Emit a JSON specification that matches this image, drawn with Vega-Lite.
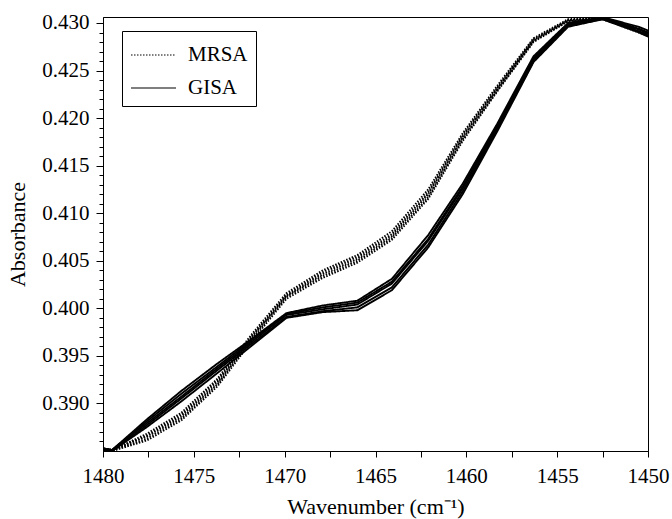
{
  "$schema": "https://vega.github.io/schema/vega-lite/v6.json",
  "autosize": {"type": "none"},
  "width": 545,
  "height": 434,
  "padding": {"left": 103, "top": 17, "right": 24, "bottom": 68},
  "background": "white",
  "config": {
    "view": {"stroke": "black", "strokeWidth": 1},
    "font": "Liberation Serif",
    "text": {"font": "Liberation Serif"},
    "axis": {"domainColor": "black", "tickColor": "black", "labelColor": "black", "titleColor": "black", "labelFont": "Liberation Serif", "titleFont": "Liberation Serif", "labelFontSize": 21, "titleFontSize": 22, "titleFontWeight": "normal", "grid": false, "domainWidth": 1, "tickWidth": 1},
    "legend": {"labelFont": "Liberation Serif"}
  },
  "datasets": {
    "spectra": [
      {"rep":"G1","strain":"GISA","wn":1481.4,"abs":0.3857},{"rep":"G1","strain":"GISA","wn":1479.5,"abs":0.3851},{"rep":"G1","strain":"GISA","wn":1477.6,"abs":0.3883},{"rep":"G1","strain":"GISA","wn":1475.7,"abs":0.3913},{"rep":"G1","strain":"GISA","wn":1473.7,"abs":0.3942},{"rep":"G1","strain":"GISA","wn":1471.8,"abs":0.3968},{"rep":"G1","strain":"GISA","wn":1469.9,"abs":0.3995},{"rep":"G1","strain":"GISA","wn":1467.9,"abs":0.4003},{"rep":"G1","strain":"GISA","wn":1466.0,"abs":0.4008},{"rep":"G1","strain":"GISA","wn":1464.1,"abs":0.4031},{"rep":"G1","strain":"GISA","wn":1462.1,"abs":0.4077},{"rep":"G1","strain":"GISA","wn":1460.2,"abs":0.4131},{"rep":"G1","strain":"GISA","wn":1458.3,"abs":0.4194},{"rep":"G1","strain":"GISA","wn":1456.3,"abs":0.4265},{"rep":"G1","strain":"GISA","wn":1454.4,"abs":0.4300},{"rep":"G1","strain":"GISA","wn":1452.5,"abs":0.4306},{"rep":"G1","strain":"GISA","wn":1450.5,"abs":0.4296},{"rep":"G1","strain":"GISA","wn":1448.6,"abs":0.4281},
      {"rep":"G2","strain":"GISA","wn":1481.4,"abs":0.3857},{"rep":"G2","strain":"GISA","wn":1479.5,"abs":0.3851},{"rep":"G2","strain":"GISA","wn":1477.6,"abs":0.3881},{"rep":"G2","strain":"GISA","wn":1475.7,"abs":0.3910},{"rep":"G2","strain":"GISA","wn":1473.7,"abs":0.3939},{"rep":"G2","strain":"GISA","wn":1471.8,"abs":0.3967},{"rep":"G2","strain":"GISA","wn":1469.9,"abs":0.3994},{"rep":"G2","strain":"GISA","wn":1467.9,"abs":0.4001},{"rep":"G2","strain":"GISA","wn":1466.0,"abs":0.4006},{"rep":"G2","strain":"GISA","wn":1464.1,"abs":0.4028},{"rep":"G2","strain":"GISA","wn":1462.1,"abs":0.4073},{"rep":"G2","strain":"GISA","wn":1460.2,"abs":0.4128},{"rep":"G2","strain":"GISA","wn":1458.3,"abs":0.4192},{"rep":"G2","strain":"GISA","wn":1456.3,"abs":0.4263},{"rep":"G2","strain":"GISA","wn":1454.4,"abs":0.4299},{"rep":"G2","strain":"GISA","wn":1452.5,"abs":0.4305},{"rep":"G2","strain":"GISA","wn":1450.5,"abs":0.4294},{"rep":"G2","strain":"GISA","wn":1448.6,"abs":0.4279},
      {"rep":"G3","strain":"GISA","wn":1481.4,"abs":0.3856},{"rep":"G3","strain":"GISA","wn":1479.5,"abs":0.3851},{"rep":"G3","strain":"GISA","wn":1477.6,"abs":0.3879},{"rep":"G3","strain":"GISA","wn":1475.7,"abs":0.3907},{"rep":"G3","strain":"GISA","wn":1473.7,"abs":0.3937},{"rep":"G3","strain":"GISA","wn":1471.8,"abs":0.3965},{"rep":"G3","strain":"GISA","wn":1469.9,"abs":0.3993},{"rep":"G3","strain":"GISA","wn":1467.9,"abs":0.3999},{"rep":"G3","strain":"GISA","wn":1466.0,"abs":0.4004},{"rep":"G3","strain":"GISA","wn":1464.1,"abs":0.4026},{"rep":"G3","strain":"GISA","wn":1462.1,"abs":0.4071},{"rep":"G3","strain":"GISA","wn":1460.2,"abs":0.4126},{"rep":"G3","strain":"GISA","wn":1458.3,"abs":0.4190},{"rep":"G3","strain":"GISA","wn":1456.3,"abs":0.4262},{"rep":"G3","strain":"GISA","wn":1454.4,"abs":0.4298},{"rep":"G3","strain":"GISA","wn":1452.5,"abs":0.4305},{"rep":"G3","strain":"GISA","wn":1450.5,"abs":0.4293},{"rep":"G3","strain":"GISA","wn":1448.6,"abs":0.4278},
      {"rep":"G4","strain":"GISA","wn":1481.4,"abs":0.3856},{"rep":"G4","strain":"GISA","wn":1479.5,"abs":0.3850},{"rep":"G4","strain":"GISA","wn":1477.6,"abs":0.3877},{"rep":"G4","strain":"GISA","wn":1475.7,"abs":0.3905},{"rep":"G4","strain":"GISA","wn":1473.7,"abs":0.3935},{"rep":"G4","strain":"GISA","wn":1471.8,"abs":0.3963},{"rep":"G4","strain":"GISA","wn":1469.9,"abs":0.3991},{"rep":"G4","strain":"GISA","wn":1467.9,"abs":0.3997},{"rep":"G4","strain":"GISA","wn":1466.0,"abs":0.4001},{"rep":"G4","strain":"GISA","wn":1464.1,"abs":0.4022},{"rep":"G4","strain":"GISA","wn":1462.1,"abs":0.4067},{"rep":"G4","strain":"GISA","wn":1460.2,"abs":0.4123},{"rep":"G4","strain":"GISA","wn":1458.3,"abs":0.4188},{"rep":"G4","strain":"GISA","wn":1456.3,"abs":0.4260},{"rep":"G4","strain":"GISA","wn":1454.4,"abs":0.4297},{"rep":"G4","strain":"GISA","wn":1452.5,"abs":0.4304},{"rep":"G4","strain":"GISA","wn":1450.5,"abs":0.4291},{"rep":"G4","strain":"GISA","wn":1448.6,"abs":0.4276},
      {"rep":"G5","strain":"GISA","wn":1481.4,"abs":0.3855},{"rep":"G5","strain":"GISA","wn":1479.5,"abs":0.3850},{"rep":"G5","strain":"GISA","wn":1477.6,"abs":0.3875},{"rep":"G5","strain":"GISA","wn":1475.7,"abs":0.3902},{"rep":"G5","strain":"GISA","wn":1473.7,"abs":0.3932},{"rep":"G5","strain":"GISA","wn":1471.8,"abs":0.3961},{"rep":"G5","strain":"GISA","wn":1469.9,"abs":0.3990},{"rep":"G5","strain":"GISA","wn":1467.9,"abs":0.3996},{"rep":"G5","strain":"GISA","wn":1466.0,"abs":0.3998},{"rep":"G5","strain":"GISA","wn":1464.1,"abs":0.4019},{"rep":"G5","strain":"GISA","wn":1462.1,"abs":0.4064},{"rep":"G5","strain":"GISA","wn":1460.2,"abs":0.4120},{"rep":"G5","strain":"GISA","wn":1458.3,"abs":0.4186},{"rep":"G5","strain":"GISA","wn":1456.3,"abs":0.4259},{"rep":"G5","strain":"GISA","wn":1454.4,"abs":0.4296},{"rep":"G5","strain":"GISA","wn":1452.5,"abs":0.4304},{"rep":"G5","strain":"GISA","wn":1450.5,"abs":0.4290},{"rep":"G5","strain":"GISA","wn":1448.6,"abs":0.4274},
      {"rep":"M1","strain":"MRSA","wn":1481.4,"abs":0.3858},{"rep":"M1","strain":"MRSA","wn":1479.5,"abs":0.3851},{"rep":"M1","strain":"MRSA","wn":1477.6,"abs":0.3868},{"rep":"M1","strain":"MRSA","wn":1475.7,"abs":0.3890},{"rep":"M1","strain":"MRSA","wn":1473.7,"abs":0.3926},{"rep":"M1","strain":"MRSA","wn":1471.8,"abs":0.3973},{"rep":"M1","strain":"MRSA","wn":1469.9,"abs":0.4016},{"rep":"M1","strain":"MRSA","wn":1467.9,"abs":0.4040},{"rep":"M1","strain":"MRSA","wn":1466.0,"abs":0.4056},{"rep":"M1","strain":"MRSA","wn":1464.1,"abs":0.4081},{"rep":"M1","strain":"MRSA","wn":1462.1,"abs":0.4125},{"rep":"M1","strain":"MRSA","wn":1460.2,"abs":0.4184},{"rep":"M1","strain":"MRSA","wn":1458.3,"abs":0.4234},{"rep":"M1","strain":"MRSA","wn":1456.3,"abs":0.4284},{"rep":"M1","strain":"MRSA","wn":1454.4,"abs":0.4304},{"rep":"M1","strain":"MRSA","wn":1452.5,"abs":0.4306},{"rep":"M1","strain":"MRSA","wn":1450.5,"abs":0.4294},{"rep":"M1","strain":"MRSA","wn":1448.6,"abs":0.4279},
      {"rep":"M2","strain":"MRSA","wn":1481.4,"abs":0.3857},{"rep":"M2","strain":"MRSA","wn":1479.5,"abs":0.3851},{"rep":"M2","strain":"MRSA","wn":1477.6,"abs":0.3866},{"rep":"M2","strain":"MRSA","wn":1475.7,"abs":0.3888},{"rep":"M2","strain":"MRSA","wn":1473.7,"abs":0.3924},{"rep":"M2","strain":"MRSA","wn":1471.8,"abs":0.3971},{"rep":"M2","strain":"MRSA","wn":1469.9,"abs":0.4014},{"rep":"M2","strain":"MRSA","wn":1467.9,"abs":0.4038},{"rep":"M2","strain":"MRSA","wn":1466.0,"abs":0.4054},{"rep":"M2","strain":"MRSA","wn":1464.1,"abs":0.4078},{"rep":"M2","strain":"MRSA","wn":1462.1,"abs":0.4122},{"rep":"M2","strain":"MRSA","wn":1460.2,"abs":0.4182},{"rep":"M2","strain":"MRSA","wn":1458.3,"abs":0.4232},{"rep":"M2","strain":"MRSA","wn":1456.3,"abs":0.4283},{"rep":"M2","strain":"MRSA","wn":1454.4,"abs":0.4303},{"rep":"M2","strain":"MRSA","wn":1452.5,"abs":0.4305},{"rep":"M2","strain":"MRSA","wn":1450.5,"abs":0.4293},{"rep":"M2","strain":"MRSA","wn":1448.6,"abs":0.4278},
      {"rep":"M3","strain":"MRSA","wn":1481.4,"abs":0.3857},{"rep":"M3","strain":"MRSA","wn":1479.5,"abs":0.3851},{"rep":"M3","strain":"MRSA","wn":1477.6,"abs":0.3865},{"rep":"M3","strain":"MRSA","wn":1475.7,"abs":0.3886},{"rep":"M3","strain":"MRSA","wn":1473.7,"abs":0.3922},{"rep":"M3","strain":"MRSA","wn":1471.8,"abs":0.3970},{"rep":"M3","strain":"MRSA","wn":1469.9,"abs":0.4013},{"rep":"M3","strain":"MRSA","wn":1467.9,"abs":0.4036},{"rep":"M3","strain":"MRSA","wn":1466.0,"abs":0.4052},{"rep":"M3","strain":"MRSA","wn":1464.1,"abs":0.4076},{"rep":"M3","strain":"MRSA","wn":1462.1,"abs":0.4120},{"rep":"M3","strain":"MRSA","wn":1460.2,"abs":0.4180},{"rep":"M3","strain":"MRSA","wn":1458.3,"abs":0.4231},{"rep":"M3","strain":"MRSA","wn":1456.3,"abs":0.4282},{"rep":"M3","strain":"MRSA","wn":1454.4,"abs":0.4303},{"rep":"M3","strain":"MRSA","wn":1452.5,"abs":0.4305},{"rep":"M3","strain":"MRSA","wn":1450.5,"abs":0.4292},{"rep":"M3","strain":"MRSA","wn":1448.6,"abs":0.4277},
      {"rep":"M4","strain":"MRSA","wn":1481.4,"abs":0.3856},{"rep":"M4","strain":"MRSA","wn":1479.5,"abs":0.3850},{"rep":"M4","strain":"MRSA","wn":1477.6,"abs":0.3863},{"rep":"M4","strain":"MRSA","wn":1475.7,"abs":0.3884},{"rep":"M4","strain":"MRSA","wn":1473.7,"abs":0.3920},{"rep":"M4","strain":"MRSA","wn":1471.8,"abs":0.3968},{"rep":"M4","strain":"MRSA","wn":1469.9,"abs":0.4012},{"rep":"M4","strain":"MRSA","wn":1467.9,"abs":0.4034},{"rep":"M4","strain":"MRSA","wn":1466.0,"abs":0.4050},{"rep":"M4","strain":"MRSA","wn":1464.1,"abs":0.4074},{"rep":"M4","strain":"MRSA","wn":1462.1,"abs":0.4117},{"rep":"M4","strain":"MRSA","wn":1460.2,"abs":0.4178},{"rep":"M4","strain":"MRSA","wn":1458.3,"abs":0.4229},{"rep":"M4","strain":"MRSA","wn":1456.3,"abs":0.4281},{"rep":"M4","strain":"MRSA","wn":1454.4,"abs":0.4302},{"rep":"M4","strain":"MRSA","wn":1452.5,"abs":0.4304},{"rep":"M4","strain":"MRSA","wn":1450.5,"abs":0.4291},{"rep":"M4","strain":"MRSA","wn":1448.6,"abs":0.4276},
      {"rep":"M5","strain":"MRSA","wn":1481.4,"abs":0.3856},{"rep":"M5","strain":"MRSA","wn":1479.5,"abs":0.3850},{"rep":"M5","strain":"MRSA","wn":1477.6,"abs":0.3861},{"rep":"M5","strain":"MRSA","wn":1475.7,"abs":0.3882},{"rep":"M5","strain":"MRSA","wn":1473.7,"abs":0.3918},{"rep":"M5","strain":"MRSA","wn":1471.8,"abs":0.3966},{"rep":"M5","strain":"MRSA","wn":1469.9,"abs":0.4010},{"rep":"M5","strain":"MRSA","wn":1467.9,"abs":0.4032},{"rep":"M5","strain":"MRSA","wn":1466.0,"abs":0.4048},{"rep":"M5","strain":"MRSA","wn":1464.1,"abs":0.4072},{"rep":"M5","strain":"MRSA","wn":1462.1,"abs":0.4115},{"rep":"M5","strain":"MRSA","wn":1460.2,"abs":0.4176},{"rep":"M5","strain":"MRSA","wn":1458.3,"abs":0.4228},{"rep":"M5","strain":"MRSA","wn":1456.3,"abs":0.4280},{"rep":"M5","strain":"MRSA","wn":1454.4,"abs":0.4302},{"rep":"M5","strain":"MRSA","wn":1452.5,"abs":0.4304},{"rep":"M5","strain":"MRSA","wn":1450.5,"abs":0.4290},{"rep":"M5","strain":"MRSA","wn":1448.6,"abs":0.4275}
    ]
  },
  "data": {"name": "spectra"},
  "mark": {"type": "line", "clip": true, "strokeWidth": 1.9, "color": "black"},
  "encoding": {
    "x": {
      "field": "wn", "type": "quantitative",
      "scale": {"domain": [1450, 1480], "reverse": true, "nice": false, "zero": false},
      "axis": {
        "title": "Wavenumber (cm⁻¹)",
        "labelFont": "Liberation Serif", "titleFont": "Liberation Serif",
        "values": [1450, 1452.5, 1455, 1457.5, 1460, 1462.5, 1465, 1467.5, 1470, 1472.5, 1475, 1477.5, 1480],
        "labelExpr": "datum.value % 5 == 0 ? format(datum.value, 'd') : ''",
        "tickSize": 6, "labelPadding": 8, "titlePadding": 10, "labelFlush": false, "labelOverlap": false
      }
    },
    "y": {
      "field": "abs", "type": "quantitative",
      "scale": {"domain": [0.385, 0.43063], "nice": false, "zero": false},
      "axis": {
        "title": "Absorbance",
        "labelFont": "Liberation Serif", "titleFont": "Liberation Serif",
        "values": [0.386,0.387,0.388,0.389,0.390,0.391,0.392,0.393,0.394,0.395,0.396,0.397,0.398,0.399,0.400,0.401,0.402,0.403,0.404,0.405,0.406,0.407,0.408,0.409,0.410,0.411,0.412,0.413,0.414,0.415,0.416,0.417,0.418,0.419,0.420,0.421,0.422,0.423,0.424,0.425,0.426,0.427,0.428,0.429,0.430],
        "labelExpr": "round(datum.value * 1000) % 5 == 0 ? format(datum.value, '.3f') : ''",
        "tickSize": {"condition": {"test": "round(datum.value * 1000) % 5 == 0", "value": 7}, "value": 4},
        "labelPadding": 7, "titlePadding": 12, "labelFlush": false, "labelOverlap": false
      }
    },
    "detail": {"field": "rep"},
    "strokeDash": {
      "field": "strain", "type": "nominal",
      "scale": {"domain": ["MRSA", "GISA"], "range": [[1.5, 1.5], [1, 0]]},
      "legend": {
        "title": null, "orient": "none", "legendX": 19, "legendY": 14,
        "symbolType": "M-1,0H2", "symbolSize": 900, "symbolStrokeWidth": 1.2, "symbolStrokeColor": "black",
        "labelFont": "Liberation Serif", "labelFontSize": 21, "labelColor": "black", "labelOffset": 26,
        "strokeColor": "black", "padding": 8, "rowPadding": 7, "fillColor": "white"
      }
    }
  }
}
